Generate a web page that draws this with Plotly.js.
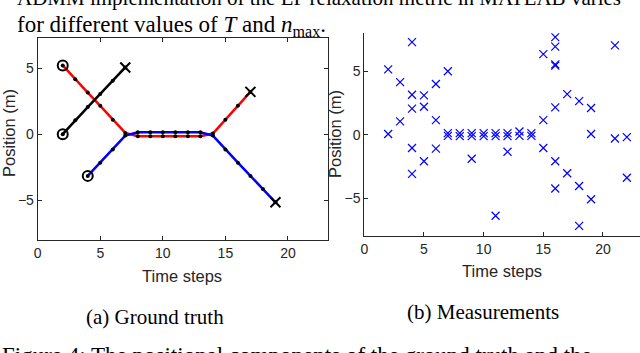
<!DOCTYPE html>
<html>
<head>
<meta charset="utf-8">
<script src="https://cdn.plot.ly/plotly-3.0.1.min.js"></script>
<style>
  html, body { margin: 0; padding: 0; background: #fff; }
  #chart { width: 640px; height: 353px; }
</style>
</head>
<body>
<div id="chart"></div>
<script>
// --- (a) ground truth tracks ---
const redT = [2, 3, 4, 5, 6, 7, 8, 9, 10, 11, 12, 13, 14, 15, 16, 17];
const redY = [5.2, 4.15, 3.15, 2.15, 1.1, 0.1, -0.15, -0.15, -0.15, -0.15, -0.15, -0.15, 0.05, 1.1, 2.15, 3.2];
const blueT = [4, 5, 6, 7, 8, 9, 10, 11, 12, 13, 14, 15, 16, 17, 18, 19];
const blueY = [-3.15, -2.15, -1.15, -0.1, 0.15, 0.15, 0.15, 0.15, 0.15, 0.15, -0.1, -1.15, -2.15, -3.15, -4.15, -5.15];
const blackT = [2, 3, 4, 5, 6, 7];
const blackY = [0, 1.05, 2.05, 3.05, 4.05, 5.05];

// --- (b) measurements ---
const measT = [2, 2, 3, 3, 4, 4, 4, 4, 4, 5, 5, 5, 6, 6, 6, 7, 7, 7,
  8, 8, 9, 9, 9, 10, 10, 11, 11, 11, 12, 12, 12, 13, 13, 14, 14,
  15, 15, 15, 16, 16, 16, 16, 16, 16, 16, 17, 17, 18, 18, 18, 19, 19, 19,
  21, 21, 22, 22];
const measY = [5.15, 0.05, 4.15, 1.05, 7.3, 3.15, 2.05, -1.05, -3.1, 3.1, 2.2, -2.1, 4.0, 1.15, -1.1, 5.0, 0.12, -0.1,
  0.12, -0.12, 0.12, -0.12, -1.9, 0.12, -0.12, 0.12, -0.12, -6.4, 0.12, -0.12, -1.35, 0.25, -0.1, 0.12, -0.1,
  6.35, 1.15, -1.05, 7.7, 6.95, 5.55, 5.45, 2.15, -2.1, -4.25, 3.2, -3.05, 2.65, -4.05, -7.2, 2.1, 0.05, -5.1,
  7.05, -0.3, -0.2, -3.4];

const xTicks = [0, 5, 10, 15, 20];
const yTicks = [-5, 0, 5];

const AX = '#262626';
const tickFont = { family: 'Liberation Sans, Arial, sans-serif', size: 14, color: AX };
const serif = 'Liberation Serif, Times New Roman, serif';

function track(t, y, color) {
  return {
    x: t, y: y, xaxis: 'x', yaxis: 'y',
    mode: 'lines+markers',
    line: { color: color, width: 2.5 },
    marker: { color: '#000', size: 4, symbol: 'circle' },
    hoverinfo: 'skip', showlegend: false
  };
}

const tracks = [[redT, redY, '#ff0000'], [blueT, blueY, '#0000ff'], [blackT, blackY, '#000000']];
const traces = tracks.map(d => track(d[0], d[1], d[2]));

// start circles and end crosses
traces.push({
  x: tracks.map(d => d[0][0]), y: tracks.map(d => d[1][0]),
  xaxis: 'x', yaxis: 'y', mode: 'markers',
  marker: { symbol: 'circle-open', size: 10, color: '#000', line: { width: 2, color: '#000' } },
  hoverinfo: 'skip', showlegend: false
});
traces.push({
  x: tracks.map(d => d[0][d[0].length - 1]), y: tracks.map(d => d[1][d[1].length - 1]),
  xaxis: 'x', yaxis: 'y', mode: 'markers',
  marker: { symbol: 'x-thin-open', size: 10, color: '#000', line: { width: 2, color: '#000' } },
  hoverinfo: 'skip', showlegend: false
});

traces.push({
  x: measT, y: measY, xaxis: 'x2', yaxis: 'y2', mode: 'markers',
  marker: { symbol: 'x-thin-open', size: 8, color: '#0000ff', line: { width: 1.2, color: '#0000ff' } },
  hoverinfo: 'skip', showlegend: false
});

const axisBase = {
  showgrid: false, zeroline: false, showline: true,
  linecolor: AX, linewidth: 1,
  ticks: 'inside', ticklen: 4, tickcolor: AX, tickwidth: 1,
  tickfont: tickFont
};

function ann(text, x, y, opts) {
  return Object.assign({
    text: text, x: x / 640, y: 1 - y / 353, xref: 'paper', yref: 'paper',
    showarrow: false, xanchor: 'center', yanchor: 'middle',
    font: { family: 'Liberation Sans, Arial, sans-serif', size: 16.5, color: AX }
  }, opts || {});
}

const layout = {
  width: 640, height: 353,
  margin: { l: 0, r: 0, t: 0, b: 0 },
  paper_bgcolor: '#fff', plot_bgcolor: '#fff',
  showlegend: false,
  xaxis: Object.assign({}, axisBase, {
    domain: [0.0589, 0.5125], range: [0, 23.2], tickvals: xTicks, mirror: 'ticks', anchor: 'y'
  }),
  yaxis: Object.assign({}, axisBase, {
    domain: [0.3201, 0.8932], range: [-8, 7.3], tickvals: yTicks, mirror: 'ticks', anchor: 'x'
  }),
  xaxis2: Object.assign({}, axisBase, {
    domain: [0.5692, 1], range: [0, 23.1], tickvals: xTicks, anchor: 'y2'
  }),
  yaxis2: Object.assign({}, axisBase, {
    domain: [0.3314, 0.9057], range: [-8, 8], tickvals: yTicks, anchor: 'x2'
  }),
  annotations: [
    ann('Time steps', 182, 276),
    ann('Position (m)', 9, 133, { textangle: -90 }),
    ann('Time steps', 502, 271),
    ann('Position (m)', 335, 134, { textangle: -90 }),
    ann('(a) Ground truth', 155, 317, { font: { family: serif, size: 21, color: '#000' } }),
    ann('(b) Measurements', 483, 312, { font: { family: serif, size: 21, color: '#000' } }),
    ann('ADMM implementation of the LP relaxation metric in MATLAB varies', 15, -2,
      { xanchor: 'left', font: { family: serif, size: 21, color: '#000' } }),
    ann('for different values of <i>T</i> and <i>n</i><sub>max</sub>.', 15, 26,
      { xanchor: 'left', font: { family: serif, size: 23, color: '#000' } }),
    ann('Figure 4: The positional components of the ground truth and the', 0, 355,
      { xanchor: 'left', font: { family: serif, size: 23, color: '#000' } })
  ]
};

Plotly.newPlot('chart', traces, layout, { staticPlot: true, displayModeBar: false });
</script>
</body>
</html>
